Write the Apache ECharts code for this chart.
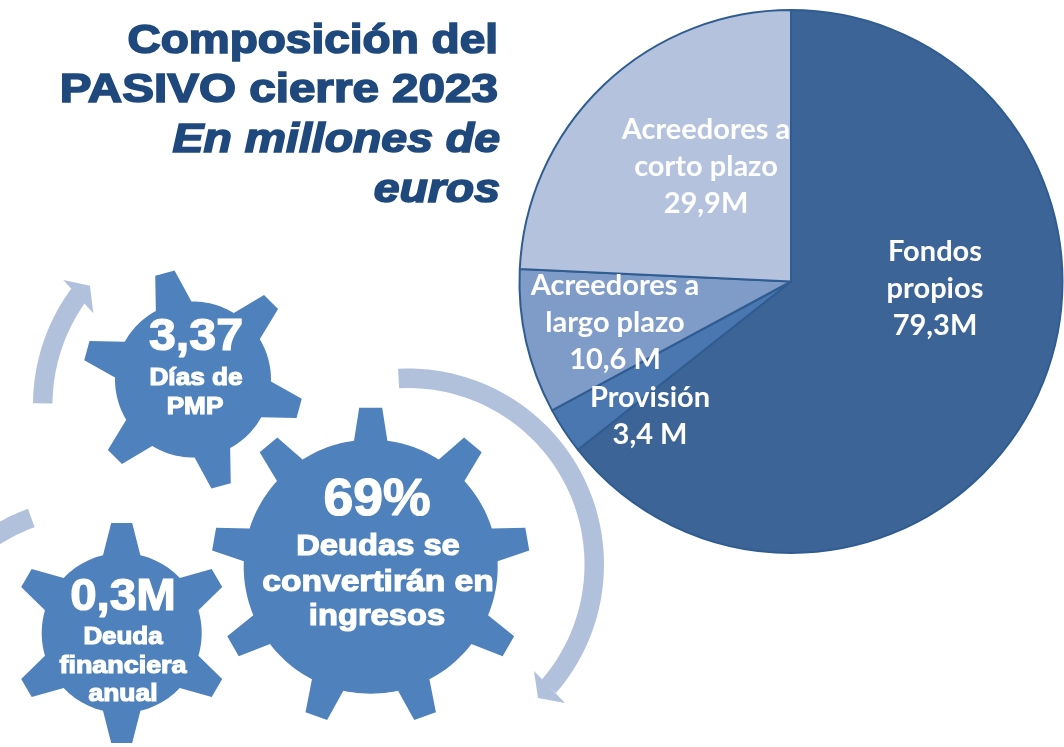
<!DOCTYPE html>
<html>
<head>
<meta charset="utf-8">
<title>Composición del PASIVO cierre 2023</title>
<script src="https://cdn.jsdelivr.net/npm/echarts@6/dist/echarts.min.js"></script>
<style>
  html, body { margin: 0; padding: 0; background: #fff; }
  #chart { width: 1064px; height: 747px; }
</style>
</head>
<body>
<div id="chart"></div>
<script>
const names = ['Fondos propios', 'Provisión', 'Acreedores a largo plazo', 'Acreedores a corto plazo'];
const values = [79.3, 3.4, 10.6, 29.9];
const valueLabels = ['79,3M', '3,4 M', '10,6 M', '29,9M'];
const nameLines = ['Fondos\npropios', 'Provisión', 'Acreedores a\nlargo plazo', 'Acreedores a\ncorto plazo'];
const sliceColors = ['#3D6496', '#4A77B0', '#7F9BC8', '#B4C2DD'];
const labelSpots = [[935, 289], [650, 416], [615, 323], [706, 167]];

const BLUE = '#4F81BD';
const PALE = '#B2C1DB';
const NAVY = '#1F497D';
const HEAVY = '"Liberation Sans", Arial, sans-serif';

function polar(cx, cy, r, deg) {
  const a = deg * Math.PI / 180;
  return [cx + r * Math.cos(a), cy + r * Math.sin(a)];
}

// gear outline: n teeth, first one at start (screen angles, y down)
function gearPoints(g) {
  const pts = [];
  const step = 360 / g.teeth;
  const baseSpan = Math.asin(g.baseHalf / g.rBody) * 180 / Math.PI;
  for (let i = 0; i < g.teeth; i++) {
    const t = g.start + i * step;
    const a = t * Math.PI / 180;
    const ux = Math.cos(a), uy = Math.sin(a), vx = -uy, vy = ux;
    pts.push(polar(g.x, g.y, g.rBody, t - baseSpan));
    pts.push([g.x + ux * g.rTip - vx * g.tipHalf, g.y + uy * g.rTip - vy * g.tipHalf]);
    pts.push([g.x + ux * g.rTip + vx * g.tipHalf, g.y + uy * g.rTip + vy * g.tipHalf]);
    pts.push(polar(g.x, g.y, g.rBody, t + baseSpan));
    const from = t + baseSpan, to = t + step - baseSpan;
    for (let k = 1; k < 12; k++) {
      pts.push(polar(g.x, g.y, g.rBody, from + (to - from) * k / 12));
    }
  }
  return pts;
}

function bandPoints(b) {
  const outer = [], inner = [];
  for (let k = 0; k <= 60; k++) {
    const d = b.from + (b.to - b.from) * k / 60;
    outer.push(polar(b.x, b.y, b.rOut, d));
    inner.push(polar(b.x, b.y, b.rIn, d));
  }
  return outer.concat(inner.reverse());
}

const gears = [
  { x: 193, y: 379.5, teeth: 6, start: -104.8, rBody: 78, rTip: 110, tipHalf: 10, baseHalf: 18.4 },
  { x: 370.7, y: 566.7, teeth: 9, start: -90, rBody: 127, rTip: 159, tipHalf: 11.5, baseHalf: 16.7 },
  { x: 121.7, y: 633, teeth: 6, start: -90, rBody: 80, rTip: 110, tipHalf: 10.5, baseHalf: 18.7 }
];
const bands = [
  { x: 408, y: 564.5, rOut: 196, rIn: 176.5, from: -92.9, to: 41 },
  { x: 229, y: 405, rOut: 196, rIn: 176.5, from: -179.5, to: -143.6 },
  { x: 95, y: 693, rOut: 196, rIn: 176.5, from: -110, to: -140 }
];
const arrowHeads = [
  [[534, 671], [565, 703], [538, 698]],
  [[63.3, 280], [90, 285.7], [93.3, 313.3]]
];
const gearTexts = [
  { text: '3,37', x: 196, y: 338, size: 44, sx: 1.1 },
  { text: 'Días de', x: 196, y: 378, size: 24, sx: 1.09 },
  { text: 'PMP', x: 195, y: 407, size: 24, sx: 1.09 },
  { text: '69%', x: 377, y: 501, size: 51, sx: 1.05 },
  { text: 'Deudas se', x: 378, y: 547, size: 30, sx: 1.09 },
  { text: 'convertirán en', x: 378, y: 583, size: 30, sx: 1.12 },
  { text: 'ingresos', x: 377, y: 617, size: 30, sx: 1.09 },
  { text: '0,3M', x: 123, y: 598, size: 44, sx: 1.08 },
  { text: 'Deuda', x: 123, y: 637, size: 24, sx: 1.08 },
  { text: 'financiera', x: 123, y: 666, size: 24, sx: 1.12 },
  { text: 'anual', x: 123, y: 694, size: 24, sx: 1.1 }
];
const titleLines = [
  { text: 'Composición del', y: 42, sx: 1.15, italic: false },
  { text: 'PASIVO cierre 2023', y: 91, sx: 1.19, italic: false },
  { text: 'En millones de', y: 141, sx: 1.16, italic: true },
  { text: 'euros', y: 191, sx: 1.16, italic: true }
];

const graphics = [];
bands.forEach(b => graphics.push({ type: 'polygon', shape: { points: bandPoints(b) }, style: { fill: PALE }, silent: true }));
arrowHeads.forEach(p => graphics.push({ type: 'polygon', shape: { points: p }, style: { fill: PALE }, silent: true }));
gears.forEach(g => graphics.push({ type: 'polygon', shape: { points: gearPoints(g) }, style: { fill: BLUE }, silent: true }));
gearTexts.forEach(t => graphics.push({
  type: 'text', x: t.x, y: t.y, scaleX: t.sx, silent: true,
  style: {
    text: t.text, fill: '#fff', align: 'center', verticalAlign: 'middle',
    font: 'bold ' + t.size + 'px ' + HEAVY,
    stroke: '#fff', lineWidth: 1.2
  }
}));
titleLines.forEach(t => graphics.push({
  type: 'text', x: t.italic ? 500 : 498, y: t.y, scaleX: t.sx, silent: true,
  style: {
    text: t.text, fill: NAVY, align: 'right', verticalAlign: 'middle',
    font: (t.italic ? 'italic ' : '') + 'bold 40px ' + HEAVY,
    stroke: NAVY, lineWidth: 1.6
  }
}));

const chart = echarts.init(document.getElementById('chart'));
chart.setOption({
  animation: false,
  backgroundColor: '#fff',
  graphic: graphics,
  series: [{
    type: 'pie',
    center: [791, 281.5],
    radius: 271.5,
    startAngle: 90,
    clockwise: true,
    silent: true,
    itemStyle: { borderColor: '#2F5C91', borderWidth: 2 },
    label: {
      show: true,
      position: 'inside',
      color: '#fff',
      fontFamily: 'Lato, sans-serif',
      fontWeight: 'bold',
      fontSize: 29,
      lineHeight: 37,
      align: 'center',
      formatter: p => nameLines[p.dataIndex] + '\n' + valueLabels[p.dataIndex]
    },
    labelLine: { show: false },
    labelLayout: p => ({
      x: labelSpots[p.dataIndex][0],
      y: labelSpots[p.dataIndex][1],
      align: 'center',
      verticalAlign: 'middle'
    }),
    data: names.map((n, i) => ({ name: n, value: values[i], itemStyle: { color: sliceColors[i] } }))
  }]
});
</script>
</body>
</html>
